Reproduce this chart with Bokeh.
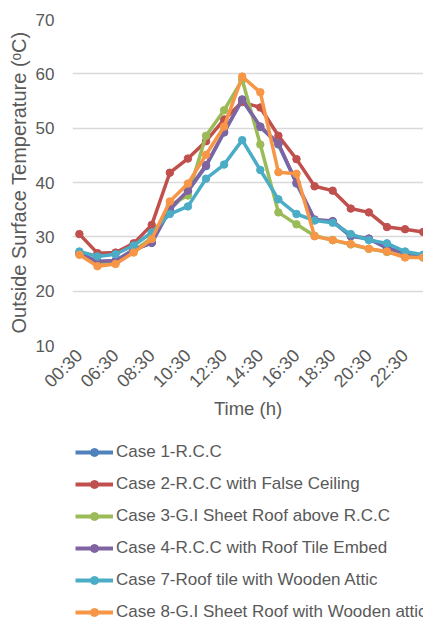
import math
from bokeh.plotting import figure
from bokeh.layouts import column
from bokeh.models import Range1d, FixedTicker, Legend, LegendItem
from bokeh.embed import file_html
from bokeh.resources import INLINE

# Hourly sample times (first reading at 00:30, then 05:30 .. 23:30)
times = ["00:30"] + ["%02d:30" % h for h in range(5, 24)]

case1 = [27.0, 25.4, 25.6, 27.6, 28.9, 35.0, 38.4, 43.0, 49.2, 55.2,
         50.2, 47.0, 39.8, 33.1, 32.8, 30.1, 29.6, 27.9, 27.0, 26.5]
case2 = [30.5, 27.0, 27.1, 28.8, 32.2, 41.8, 44.4, 47.6, 51.6, 54.8,
         53.8, 48.6, 44.3, 39.3, 38.5, 35.2, 34.5, 31.8, 31.4, 30.9]
case3 = [26.8, 25.0, 25.3, 27.4, 29.8, 35.8, 37.6, 48.6, 53.3, 58.9,
         47.0, 34.5, 32.3, 30.2, 29.4, 28.6, 27.8, 27.2, 26.4, 26.2]
case4 = [27.0, 25.5, 25.6, 27.6, 28.9, 35.2, 38.5, 43.2, 49.3, 55.3,
         50.3, 47.2, 40.0, 33.2, 32.9, 30.2, 29.7, 28.0, 27.0, 26.6]
case7 = [27.3, 26.4, 26.8, 28.4, 30.8, 34.2, 35.6, 40.7, 43.3, 47.8,
         42.3, 36.9, 34.2, 33.0, 32.6, 30.5, 29.4, 28.8, 27.3, 26.7]
case8 = [26.7, 24.6, 25.0, 27.1, 29.6, 36.5, 39.8, 45.1, 50.3, 59.5,
         56.6, 41.9, 41.6, 30.1, 29.4, 28.7, 27.8, 27.3, 26.2, 26.2]

names = ["Case 1-R.C.C",
         "Case 2-R.C.C with False Ceiling",
         "Case 3-G.I Sheet Roof above R.C.C",
         "Case 4-R.C.C with Roof Tile Embed",
         "Case 7-Roof tile with Wooden Attic",
         "Case 8-G.I Sheet Roof with Wooden attic"]
colors = ["#4F81BD", "#C0504D", "#9BBB59", "#8064A2", "#4BACC6", "#F79646"]
series = [case1, case2, case3, case4, case7, case8]

FONT = "Liberation Sans"
TXT = "#595959"
LW = 3.5
MS = 7.5

# ---- main chart -------------------------------------------------------
p = figure(width=423, height=436, output_backend="svg", toolbar_location=None,
           x_range=Range1d(-0.38, 19.02), y_range=Range1d(10, 70),
           min_border_left=72, min_border_right=0, min_border_top=19,
           min_border_bottom=91)
p.outline_line_color = None
p.background_fill_color = "white"
p.border_fill_color = "white"

xs = list(range(len(times)))
for col, ys in zip(colors, series):
    p.line(xs, ys, line_color=col, line_width=LW)
    p.scatter(xs, ys, marker="circle", size=MS, fill_color=col, line_color=col)

p.yaxis.ticker = FixedTicker(ticks=[10, 20, 30, 40, 50, 60, 70])
p.xaxis.ticker = FixedTicker(ticks=list(range(0, 19, 2)))
p.xaxis.major_label_overrides = {i: times[i] for i in range(0, 19, 2)}
p.xaxis.major_label_orientation = math.pi / 4

for ax in (p.xaxis, p.yaxis):
    ax.axis_line_color = None
    ax.major_tick_line_color = None
    ax.minor_tick_line_color = None
    ax.major_tick_out = 0
    ax.major_tick_in = 0
    ax.major_label_text_font = FONT
    ax.major_label_text_font_size = "17px"
    ax.major_label_text_color = TXT
    ax.axis_label_text_font = FONT
    ax.axis_label_text_font_size = "18.5px"
    ax.axis_label_text_font_style = "normal"
    ax.axis_label_text_color = TXT

p.xaxis.major_label_text_font_size = "18px"
p.yaxis.axis_label = "Outside Surface Temperature (ᵒC)"
p.yaxis.axis_label_text_font_size = "20px"
p.yaxis.major_label_standoff = 18
p.yaxis.axis_label_standoff = 3
p.xaxis.axis_label = "Time (h)"
p.xaxis.major_label_standoff = 7
p.xaxis.axis_label_standoff = -3

p.xgrid.grid_line_color = None
p.ygrid.grid_line_color = "#D9D9D9"
p.ygrid.grid_line_width = 1.3

# ---- legend strip underneath (series kept outside its visible range) --
lp = figure(width=423, height=185, output_backend="svg", toolbar_location=None,
            x_range=Range1d(100, 101), y_range=Range1d(0, 1),
            x_axis_location=None, y_axis_location=None,
            min_border_left=0, min_border_right=0, min_border_top=0,
            min_border_bottom=0)
lp.outline_line_color = None
lp.xgrid.grid_line_color = None
lp.ygrid.grid_line_color = None
lp.border_fill_color = "white"

items = []
for name, col, ys in zip(names, colors, series):
    ln = lp.line(xs, ys, line_color=col, line_width=LW + 0.5)
    sc = lp.scatter(xs, ys, marker="circle", size=MS, fill_color=col, line_color=col)
    items.append(LegendItem(label=name, renderers=[ln, sc]))

legend = Legend(items=items, location=(3, -1), orientation="vertical",
                glyph_width=38, glyph_height=20, label_height=20, spacing=12,
                label_standoff=3, padding=0, margin=0,
                border_line_alpha=0, background_fill_alpha=0,
                label_text_font=FONT, label_text_font_size="17px",
                label_text_color=TXT)
lp.add_layout(legend, "center")

layout = column(p, lp, spacing=0)
open("out.html", "w").write(file_html(layout, INLINE))
